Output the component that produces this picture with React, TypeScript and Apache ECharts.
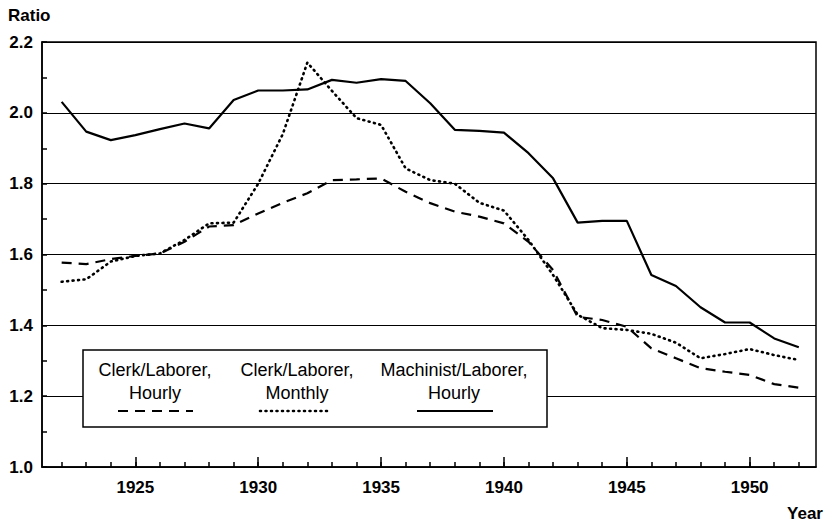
import React, { useEffect, useRef } from "react";
import * as echarts from "echarts";

const years = [1922, 1923, 1924, 1925, 1926, 1927, 1928, 1929, 1930, 1931, 1932, 1933, 1934, 1935, 1936, 1937, 1938, 1939, 1940, 1941, 1942, 1943, 1944, 1945, 1946, 1947, 1948, 1949, 1950, 1951, 1952];
const clerkHourly = [1.577, 1.573, 1.587, 1.596, 1.603, 1.636, 1.679, 1.683, 1.716, 1.746, 1.773, 1.81, 1.812, 1.815, 1.777, 1.745, 1.721, 1.707, 1.688, 1.636, 1.556, 1.424, 1.415, 1.396, 1.335, 1.307, 1.279, 1.269, 1.26, 1.234, 1.224];
const clerkMonthly = [1.523, 1.53, 1.58, 1.596, 1.603, 1.641, 1.688, 1.69, 1.8, 1.94, 2.142, 2.062, 1.985, 1.966, 1.843, 1.81, 1.8, 1.746, 1.724, 1.641, 1.542, 1.43, 1.392, 1.387, 1.376, 1.351, 1.307, 1.319, 1.333, 1.316, 1.302];
const machinistHourly = [2.031, 1.947, 1.923, 1.937, 1.954, 1.97, 1.956, 2.036, 2.063, 2.063, 2.066, 2.093, 2.085, 2.095, 2.09, 2.027, 1.952, 1.949, 1.944, 1.886, 1.815, 1.69, 1.695, 1.695, 1.542, 1.511, 1.451, 1.408, 1.408, 1.363, 1.338];
const yearTicks = years;
const majorYearTicks = [1925, 1930, 1935, 1940, 1945, 1950];
const legendNames = [["Clerk/Laborer,", "Hourly"], ["Clerk/Laborer,", "Monthly"], ["Machinist/Laborer,", "Hourly"]];

const FONT = "'Liberation Sans', Arial, Helvetica, sans-serif";

export default function App() {
  const ref = useRef<HTMLDivElement>(null);
  useEffect(() => {
    document.body.style.margin = "0";
    const chart = echarts.init(ref.current!, null, { renderer: "svg" });
    const toPairs = (vals: number[]) => years.map((y, i) => [y, vals[i]]);
    const xMin = 1921.2;
    const xMax = 1952.7;
    const cols = [
      { cx: 155, x1: 118, x2: 193, dash: [10, 7], cap: "butt", w: 2.2 },
      { cx: 297, x1: 260, x2: 330, dash: [1, 4.5], cap: "round", w: 2.6 },
      { cx: 454, x1: 417, x2: 493, dash: null, cap: "butt", w: 2.2 },
    ];
    const legendGraphics: any[] = [
      {
        type: "rect",
        shape: { x: 83, y: 350, width: 464, height: 77 },
        style: { fill: "#fff", stroke: "#000", lineWidth: 1.5 },
        z: 100,
      },
    ];
    cols.forEach((c, i) => {
      legendGraphics.push({
        type: "text",
        x: c.cx,
        y: 370,
        z: 101,
        style: { text: legendNames[i][0], font: `18px ${FONT}`, fill: "#000", textAlign: "center", textVerticalAlign: "middle" },
      });
      legendGraphics.push({
        type: "text",
        x: c.cx,
        y: 393,
        z: 101,
        style: { text: legendNames[i][1], font: `18px ${FONT}`, fill: "#000", textAlign: "center", textVerticalAlign: "middle" },
      });
      legendGraphics.push({
        type: "line",
        z: 101,
        shape: { x1: c.x1, y1: 411, x2: c.x2, y2: 411 },
        style: { stroke: "#000", lineWidth: c.w, lineDash: c.dash, lineCap: c.cap },
      });
    });
    chart.setOption({
      animation: false,
      backgroundColor: "#fff",
      grid: { left: 42, top: 42, right: 8, bottom: 59, show: true, borderColor: "#000", borderWidth: 1.5, backgroundColor: "transparent" },
      xAxis: [
        {
          type: "value",
          min: xMin,
          max: xMax,
          axisLine: { show: true, lineStyle: { color: "#000", width: 1.5 } },
          axisTick: { show: true, inside: true, length: 5, customValues: yearTicks, lineStyle: { color: "#000", width: 1.5 } },
          axisLabel: { show: false },
          splitLine: { show: false },
        },
        {
          type: "value",
          min: xMin,
          max: xMax,
          position: "bottom",
          axisLine: { show: false },
          axisTick: { show: true, inside: true, length: 10, customValues: majorYearTicks, lineStyle: { color: "#000", width: 1.5 } },
          axisLabel: { show: true, customValues: majorYearTicks, margin: 12, color: "#000", fontSize: 17, fontWeight: "bold", fontFamily: FONT, formatter: (v: number) => String(Math.round(v)) },
          splitLine: { show: false },
        },
      ],
      yAxis: {
        type: "value",
        min: 1.0,
        max: 2.2,
        interval: 0.2,
        axisLine: { show: true, lineStyle: { color: "#000", width: 1.5 } },
        axisTick: { show: true, inside: true, length: 5, lineStyle: { color: "#000", width: 1.5 } },
        minorTick: { show: true, splitNumber: 2, length: 5, lineStyle: { color: "#000", width: 1.5 } },
        axisLabel: { color: "#000", fontSize: 17, fontWeight: "bold", fontFamily: FONT, margin: 9, formatter: (v: number) => v.toFixed(1) },
        splitLine: { show: true, lineStyle: { color: "#000", width: 1.2 } },
      },
      graphic: [
        { type: "text", x: 8, y: 15, style: { text: "Ratio", font: `bold 17px ${FONT}`, fill: "#000", textVerticalAlign: "middle" } },
        { type: "text", x: 823, y: 513, style: { text: "Year", font: `bold 17px ${FONT}`, fill: "#000", textAlign: "right", textVerticalAlign: "middle" } },
        ...legendGraphics,
      ],
      series: [
        {
          name: "Clerk/Laborer, Hourly",
          type: "line",
          xAxisIndex: 0,
          data: toPairs(clerkHourly),
          showSymbol: false,
          symbol: "none",
          lineStyle: { color: "#000", width: 2.2, type: [10, 7] },
        },
        {
          name: "Clerk/Laborer, Monthly",
          type: "line",
          xAxisIndex: 0,
          data: toPairs(clerkMonthly),
          showSymbol: false,
          symbol: "none",
          lineStyle: { color: "#000", width: 2.6, type: [1, 4.5], cap: "round" },
        },
        {
          name: "Machinist/Laborer, Hourly",
          type: "line",
          xAxisIndex: 0,
          data: toPairs(machinistHourly),
          showSymbol: false,
          symbol: "none",
          lineStyle: { color: "#000", width: 2.2 },
        },
      ],
    });
    return () => chart.dispose();
  }, []);
  return <div ref={ref} style={{ width: 824, height: 526 }} />;
}
